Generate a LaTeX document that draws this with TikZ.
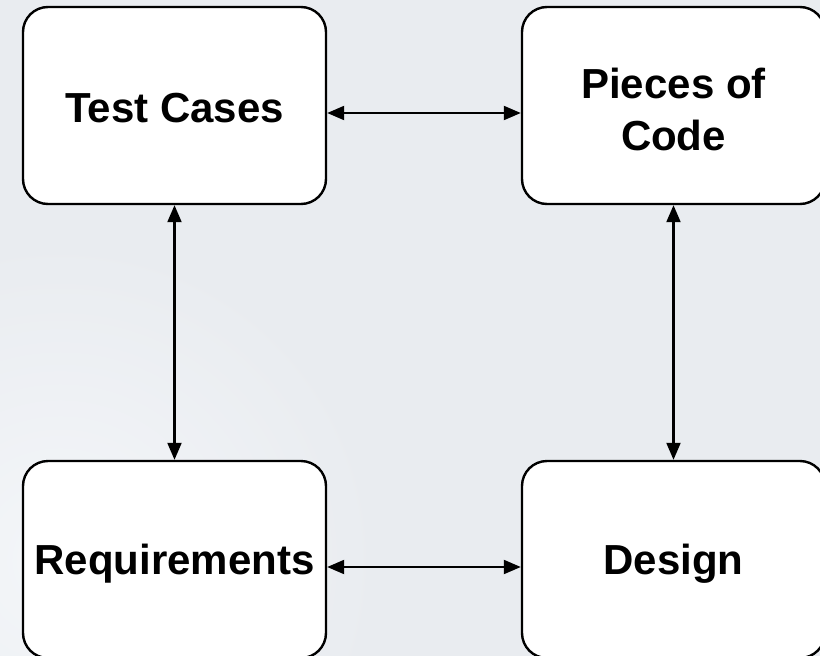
\documentclass[tikz,border=0pt]{standalone}
\usepackage{fontspec}
\setmainfont{Liberation Sans}
\usetikzlibrary{arrows.meta}
\definecolor{bgcol}{HTML}{E9ECF0}
\definecolor{bglight}{HTML}{F4F6F9}
\begin{document}
\begin{tikzpicture}[x=1pt,y=1pt,
  box/.style={draw=black, line width=2.4pt, fill=white, rounded corners=25pt,
    minimum width=303pt, minimum height=197pt, inner sep=0pt},
  txt/.style={inner sep=0pt, align=center, font=\fontsize{42}{52}\selectfont\bfseries},
  arr/.style={line width=2.1pt, {Triangle[length=17pt,width=14pt]}-{Triangle[length=17pt,width=14pt]}}]
\useasboundingbox (0,0) rectangle (820,-656);
\fill[bgcol] (0,0) rectangle (820,-656);
\begin{scope}
\clip (0,0) rectangle (820,-656);
\shade[inner color=bglight, outer color=bgcol] (60,-560) circle (320);
\end{scope}
\node[box] (tc) at (174.5,-105.5) {};
\node[box] (pc) at (673.5,-105.5) {};
\node[box] (rq) at (174.5,-559.5) {};
\node[box] (ds) at (673.5,-559.5) {};
\node[txt] (tct) at ([yshift=-3pt]tc.center) {Test Cases};
\node[txt] (pct) at ([yshift=-4pt]pc.center) {Pieces of\\Code};
\node[txt] (rqt) at ([yshift=-4pt]rq.center) {Requirements};
\node[txt] (dst) at ([yshift=-4pt]ds.center) {Design};
\draw[arr] ([yshift=-7.5pt]tc.east) -- ([yshift=-7.5pt]pc.west);
\draw[arr] (tc.south) -- (rq.north);
\draw[arr] (pc.south) -- (ds.north);
\draw[arr] ([yshift=-7.5pt]rq.east) -- ([yshift=-7.5pt]ds.west);
\end{tikzpicture}
\end{document}
